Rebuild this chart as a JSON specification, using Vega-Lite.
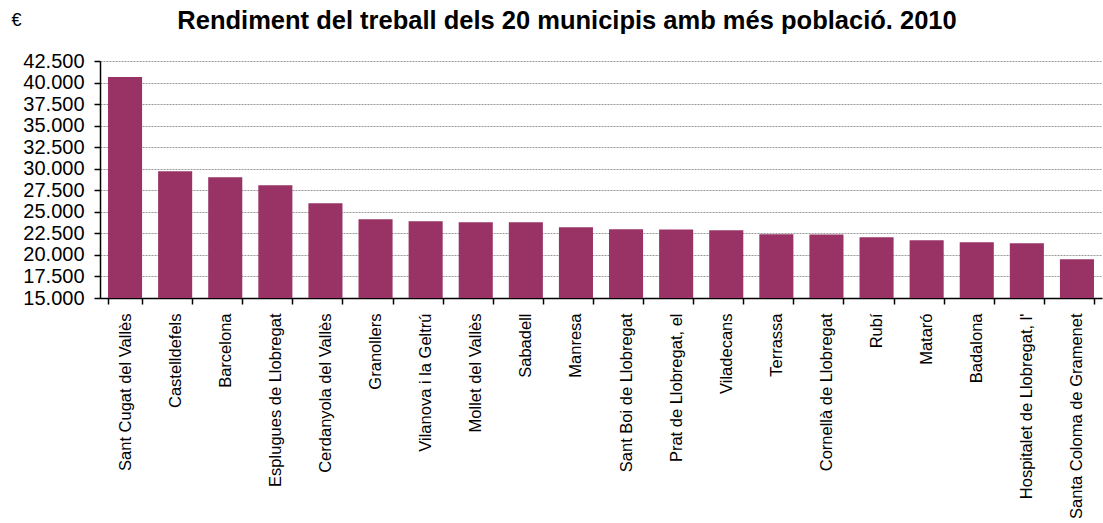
{
  "$schema": "https://vega.github.io/schema/vega-lite/v6.json",
  "autosize": {"type": "none"},
  "padding": {"left": 100, "top": 61, "right": 1, "bottom": 225},
  "width": 1002,
  "height": 237,
  "background": "white",
  "title": {
    "text": "Rendiment del treball dels 20 municipis amb més població. 2010",
    "font": "Liberation Sans",
    "fontSize": 25.5,
    "fontWeight": "bold",
    "color": "black",
    "anchor": "middle",
    "dx": -34,
    "offset": -23
  },
  "data": {
    "values": [
      {"municipi": "Sant Cugat del Vallès", "valor": 40640},
      {"municipi": "Castelldefels", "valor": 29720},
      {"municipi": "Barcelona", "valor": 29020},
      {"municipi": "Esplugues de Llobregat", "valor": 28090},
      {"municipi": "Cerdanyola del Vallès", "valor": 26000},
      {"municipi": "Granollers", "valor": 24140},
      {"municipi": "Vilanova i la Geltrú", "valor": 23910},
      {"municipi": "Mollet del Vallès", "valor": 23800},
      {"municipi": "Sabadell", "valor": 23780},
      {"municipi": "Manresa", "valor": 23210},
      {"municipi": "Sant Boi de Llobregat", "valor": 22980},
      {"municipi": "Prat de Llobregat, el", "valor": 22960},
      {"municipi": "Viladecans", "valor": 22870},
      {"municipi": "Terrassa", "valor": 22400},
      {"municipi": "Cornellà de Llobregat", "valor": 22380},
      {"municipi": "Rubí", "valor": 22050},
      {"municipi": "Mataró", "valor": 21700},
      {"municipi": "Badalona", "valor": 21470},
      {"municipi": "Hospitalet de Llobregat, l'", "valor": 21350},
      {"municipi": "Santa Coloma de Gramenet", "valor": 19500}
    ]
  },
  "mark": {"type": "bar", "color": "#993366", "clip": true},
  "encoding": {
    "x": {
      "field": "municipi",
      "type": "nominal",
      "sort": null,
      "scale": {"paddingInner": 0.32, "paddingOuter": 0.16},
      "axis": {
        "title": null,
        "labelAngle": -90,
        "labelFont": "Liberation Sans",
        "labelFontSize": 16.5,
        "labelColor": "black",
        "labelPadding": 9,
        "labelLimit": 300,
        "tickBand": "extent",
        "tickSize": 6,
        "tickColor": "black",
        "tickWidth": 1.5,
        "domainColor": "black",
        "domainWidth": 1.5,
        "grid": false
      }
    },
    "y": {
      "field": "valor",
      "type": "quantitative",
      "scale": {"domain": [15000, 42500], "zero": false, "nice": false},
      "axis": {
        "title": "€",
        "titleAngle": 0,
        "titleX": -89,
        "titleY": -32,
        "titleFont": "Liberation Sans",
        "titleFontSize": 18,
        "titleFontWeight": "normal",
        "titleColor": "black",
        "titleAlign": "left",
        "values": [15000, 17500, 20000, 22500, 25000, 27500, 30000, 32500, 35000, 37500, 40000, 42500],
        "labelExpr": "replace(format(datum.value, ',.0f'), ',', '.')",
        "labelFont": "Liberation Sans",
        "labelFontSize": 20,
        "labelColor": "black",
        "labelPadding": 10,
        "tickSize": 6,
        "tickColor": "black",
        "tickWidth": 1.5,
        "domainColor": "black",
        "domainWidth": 1.5,
        "grid": true,
        "gridColor": "#999999",
        "gridDash": [2, 1],
        "gridWidth": 1
      }
    }
  },
  "config": {
    "view": {"stroke": null}
  }
}
